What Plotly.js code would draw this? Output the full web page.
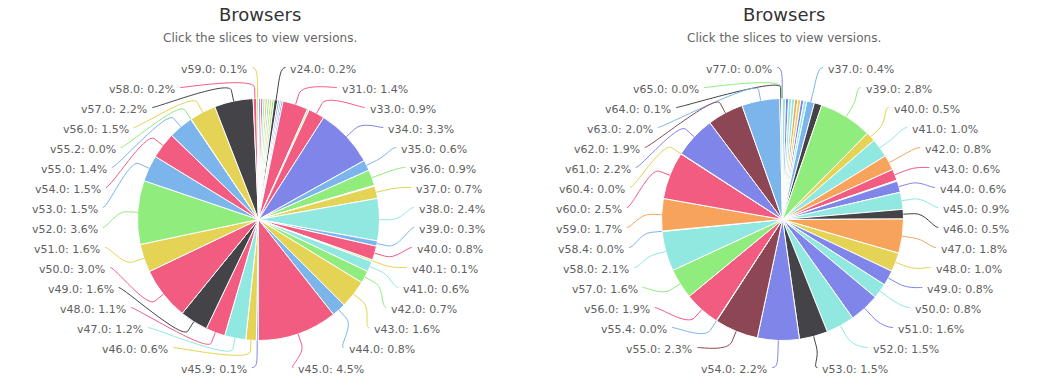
<!DOCTYPE html>
<html><head><meta charset="utf-8">
<script src="https://cdn.plot.ly/plotly-3.0.1.min.js"></script>
<style>html,body{margin:0;padding:0;background:#fff}#chart{width:1046px;height:392px}</style>
</head><body><div id="chart"></div>
<script>
// ---------- data ----------
const chartTitle = 'Browsers';
const chartSubtitle = 'Click the slices to view versions.';

const leftNames = ['v10.0','v18.0','v19.0','v20.0','v21.0','v22.0','v23.0','v24.0','v25.0','v26.0','v30.0','v31.0','v32.0','v33.0','v34.0','v35.0','v36.0','v36.1','v37.0','v38.0','v39.0','v40.0','v40.1','v41.0','v42.0','v43.0','v44.0','v45.0','v45.9','v46.0','v47.0','v48.0','v49.0','v50.0','v51.0','v52.0','v53.0','v54.0','v55.0','v55.2','v56.0','v57.0','v58.0','v59.0'];
const leftValues = [0.127,0.127,0.127,0.127,0.127,0.127,0.127,0.20,0.10,0.10,0.10,1.44,0.10,0.92,3.34,0.60,0.90,0.05,0.70,2.40,0.30,0.80,0.10,0.60,0.70,1.60,0.80,4.54,0.10,0.60,1.20,1.10,1.60,3.00,1.60,3.62,1.50,1.50,1.40,0.02,1.50,2.20,0.20,0.10];
const leftLabeled = [0,0,0,0,0,0,0,1,0,0,0,1,0,1,1,1,1,0,1,1,1,1,1,1,1,1,1,1,1,1,1,1,1,1,1,1,1,1,1,1,1,1,1,1];
const leftColorKeys = ['blue','pink','cyan','yellow','cyan','yellow','green','dark','purple','blue','purple','pink','green','pink','purple','blue','green','purple','yellow','cyan','blue','pink','yellow','cyan','green','yellow','blue','pink','purple','yellow','cyan','pink','dark','pink','yellow','green','blue','pink','blue','green','yellow','dark','pink','yellow'];

const rightNames = ['v3.6','v4.0','v20.0','v28.0','v29.0','v30.0','v31.0','v33.0','v37.0','v38.0','v39.0','v40.0','v41.0','v42.0','v43.0','v43.1','v44.0','v45.0','v46.0','v47.0','v48.0','v49.0','v50.0','v51.0','v52.0','v53.0','v54.0','v55.0','v55.4','v56.0','v57.0','v58.0','v58.4','v59.0','v60.0','v60.4','v61.0','v62.0','v63.0','v64.0','v65.0','v77.0'];
const rightValues = [0.16,0.16,0.16,0.16,0.16,0.16,0.16,0.16,0.40,0.40,2.80,0.50,1.00,0.80,0.60,0.05,0.60,0.90,0.50,1.80,1.00,0.80,0.80,1.60,1.50,1.50,2.20,2.30,0.02,1.90,1.60,2.10,0.02,1.70,2.50,0.02,2.20,1.90,2.00,0.10,0.02,0.02];
const rightLabeled = [0,0,0,0,0,0,0,0,1,0,1,1,1,1,1,0,1,1,1,1,1,1,1,1,1,1,1,1,1,1,1,1,1,1,1,1,1,1,1,1,1,1];
const rightColorKeys = ['cyan','purple','cyan','cyan','orange','yellow','purple','cyan','blue','dark','green','yellow','cyan','orange','pink','yellow','purple','cyan','dark','orange','yellow','purple','cyan','purple','cyan','dark','purple','maroon','blue','pink','green','cyan','blue','orange','pink','yellow','purple','maroon','blue','dark','green','purple'];

// ---------- styling / geometry ----------
const PALETTE = {blue:'#7cb5ec', dark:'#434348', green:'#90ed7d', orange:'#f7a35c', purple:'#8085e9', pink:'#f15c80', yellow:'#e4d354', maroon:'#8d4653', cyan:'#91e8e1'};
const W = 1046, H = 392;
const FONT = 'DejaVu Sans, Verdana, sans-serif';
const pies = [
  {names:leftNames, values:leftValues, labeled:leftLabeled, colors:leftColorKeys.map(k=>PALETTE[k]), cx:258.5, cy:219.5, r:121},
  {names:rightNames, values:rightValues, labeled:rightLabeled, colors:rightColorKeys.map(k=>PALETTE[k]), cx:782.5, cy:219.5, r:121}
];
const LABEL_DIST = 30, CONN_OFF = 11, TEXT_PAD = 10, SLOT = 20, SPAN = 150;

const px = x => x / W, py = y => 1 - y / H;
const traces = [], annotations = [], shapes = [];

function distribute(items, lo, hi) {
  items.sort((a,b)=>a.ny-b.ny);
  items.forEach(it => it.y = Math.min(Math.max(it.ny, lo), hi));
  for (let i = 1; i < items.length; i++) if (items[i].y < items[i-1].y + SLOT) items[i].y = items[i-1].y + SLOT;
  if (items.length) items[items.length-1].y = Math.min(items[items.length-1].y, hi);
  for (let i = items.length-2; i >= 0; i--) if (items[i].y > items[i+1].y - SLOT) items[i].y = items[i+1].y - SLOT;
}

pies.forEach((p, pi) => {
  traces.push({
    type:'pie', labels:p.names, values:p.values, sort:false, direction:'clockwise', rotation:0,
    marker:{colors:p.colors, line:{color:'#ffffff', width:1}},
    textinfo:'none', hoverinfo:'label+value', showlegend:false,
    domain:{x:[px(p.cx-p.r), px(p.cx+p.r)], y:[py(p.cy+p.r), py(p.cy-p.r)]}
  });
  const total = p.values.reduce((a,b)=>a+b,0);
  let cum = 0;
  const right = [], left = [];
  p.values.forEach((v, i) => {
    const th = (cum + v/2) / total * 2 * Math.PI;
    cum += v;
    if (!p.labeled[i]) return;
    const it = {i, th, ny: p.cy - (p.r + LABEL_DIST) * Math.cos(th)};
    (th < Math.PI ? right : left).push(it);
  });
  const R = p.r + LABEL_DIST;
  [[right, 1], [left, -1]].forEach(([items, s]) => {
    distribute(items, p.cy - SPAN, p.cy + SPAN);
    items.forEach((it, k) => {
      const ya = it.y - 2;
      let xa;
      // first (and, on the left half, last) slot keeps the slice's natural x
      const natural = (k === 0) || (s < 0 && k === items.length - 1);
      if (natural) {
        xa = p.cx + R * Math.sin(it.th);
      } else {
        const dy = Math.max(-1, Math.min(1, (ya - p.cy) / R));
        xa = p.cx + s * Math.cos(Math.asin(dy)) * R;
      }
      const ex = p.cx + p.r * Math.sin(it.th), ey = p.cy - p.r * Math.cos(it.th);
      const bx = p.cx + (p.r + CONN_OFF) * Math.sin(it.th), by = p.cy - (p.r + CONN_OFF) * Math.cos(it.th);
      const c2x = 2*bx - ex, c2y = 2*by - ey;
      const path = `M ${px(xa + s*5)},${py(ya)} C ${px(xa)},${py(ya)} ${px(c2x)},${py(c2y)} ${px(bx)},${py(by)} L ${px(ex)},${py(ey)}`;
      shapes.push({type:'path', xref:'paper', yref:'paper', path, line:{color:p.colors[it.i], width:1}});
      annotations.push({
        xref:'paper', yref:'paper', x:px(xa + s*TEXT_PAD), y:py(it.y),
        xanchor: s > 0 ? 'left' : 'right', yanchor:'middle', showarrow:false, borderpad:0, borderwidth:0,
        text: p.names[it.i] + ': ' + p.values[it.i].toFixed(1) + '%',
        font:{family:FONT, size:11, color:'#606060'}
      });
    });
  });
  annotations.push({xref:'paper', yref:'paper', x:px(p.cx+1.5), y:py(15), xanchor:'center', yanchor:'middle', showarrow:false,
    text:chartTitle, font:{family:FONT, size:18, color:'#333333'}});
  annotations.push({xref:'paper', yref:'paper', x:px(p.cx+1.5), y:py(38), xanchor:'center', yanchor:'middle', showarrow:false,
    text:chartSubtitle, font:{family:FONT, size:12, color:'#666666'}});
});

const layout = {
  width:W, height:H, margin:{l:0, r:0, t:0, b:0},
  paper_bgcolor:'#ffffff', plot_bgcolor:'#ffffff', showlegend:false,
  font:{family:FONT}, annotations, shapes
};
Plotly.newPlot('chart', traces, layout, {displayModeBar:false, staticPlot:true});
</script></body></html>
